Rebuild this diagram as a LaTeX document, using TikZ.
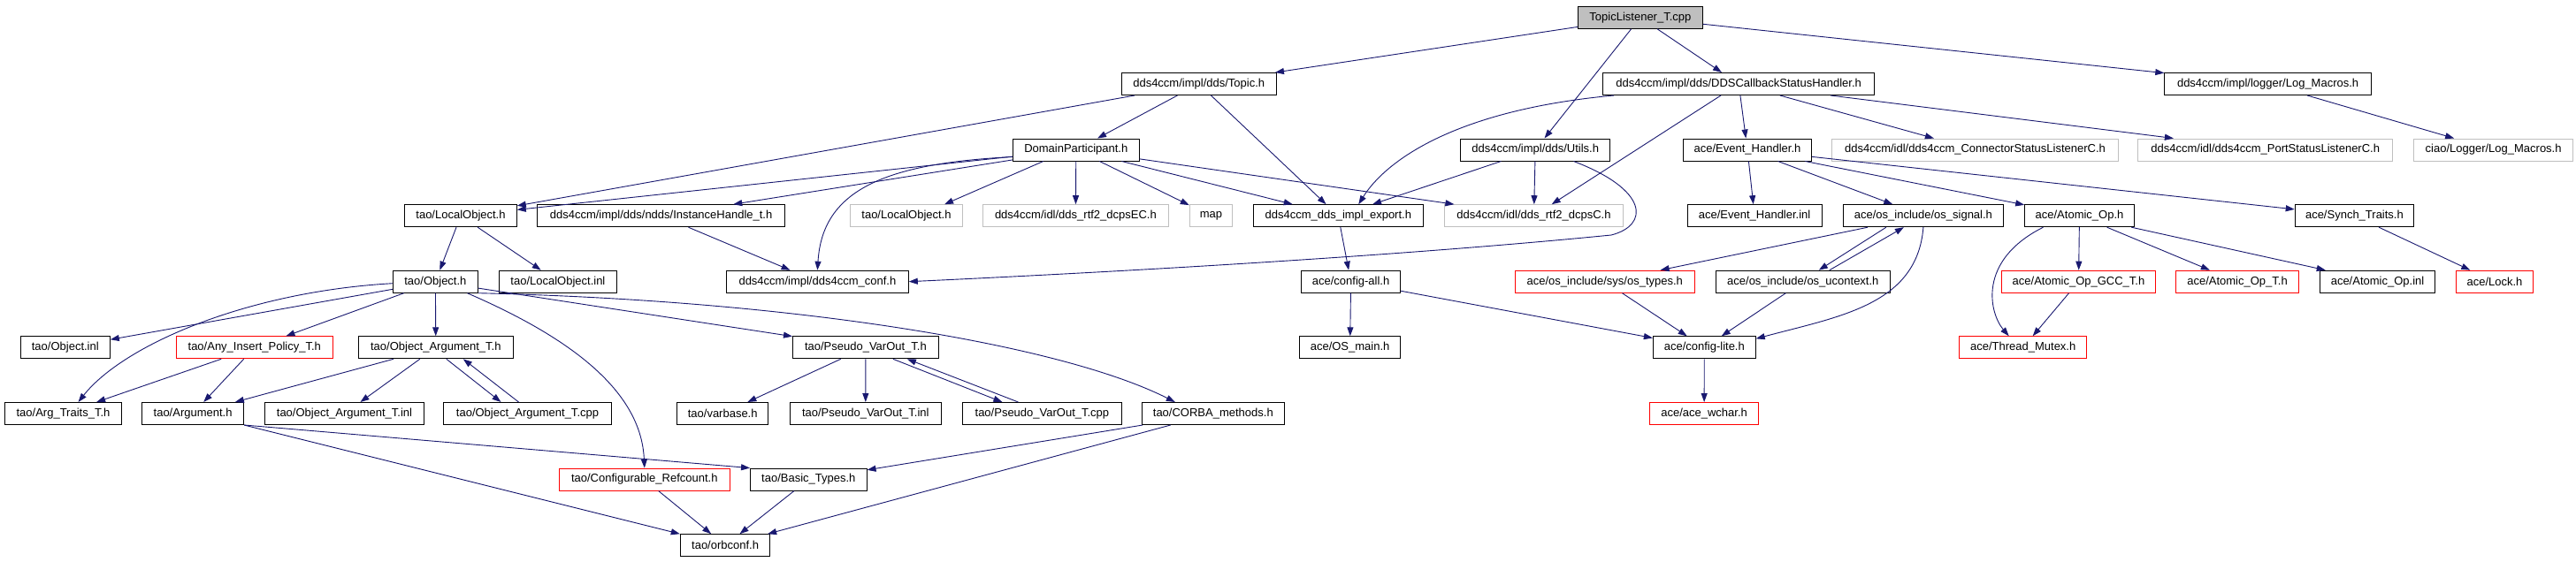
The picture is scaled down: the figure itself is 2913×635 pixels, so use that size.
\documentclass[tikz,border=0pt]{standalone}
\usepackage{fontspec}
\setmainfont{Liberation Sans}
\usetikzlibrary{arrows.meta}
\definecolor{edgec}{HTML}{191970}
\definecolor{grayc}{HTML}{BFBFBF}
\begin{document}
\begin{tikzpicture}[x=1pt,y=-1pt,
  nb/.style={draw=black, line width=1pt, minimum height=25pt, inner sep=0pt, font=\fontsize{13}{15}\selectfont, anchor=center},
  nr/.style={nb, draw=red},
  ng/.style={nb, draw=grayc},
  nt/.style={nb, fill=grayc},
  ed/.style={draw=edgec, line width=0.9pt, -{Triangle[length=10pt,width=7pt]}}]
\fill[white] (0,0) rectangle (2913,635);
\useasboundingbox (0,0) rectangle (2913,635);
% row 0
\node[nt, minimum width=140.6pt] (tl) at (1854.9,19.8) {TopicListener\_T.cpp};
% row 1
\node[nb, minimum width=175.3pt] (topic) at (1355.7,95) {dds4ccm/impl/dds/Topic.h};
\node[nb, minimum width=307.3pt] (ddscb) at (1966.2,95) {dds4ccm/impl/dds/DDSCallbackStatusHandler.h};
\node[nb, minimum width=233.6pt] (logm) at (2564.6,95) {dds4ccm/impl/logger/Log\_Macros.h};
% row 2
\node[nb, minimum width=142.4pt] (dp) at (1216.8,169.5) {DomainParticipant.h};
\node[nb, minimum width=169.5pt] (utils) at (1736.2,169.5) {dds4ccm/impl/dds/Utils.h};
\node[nb, minimum width=145.3pt] (evh) at (1976,169.5) {ace/Event\_Handler.h};
\node[ng, minimum width=324.7pt] (csl) at (2233.5,169.5) {dds4ccm/idl/dds4ccm\_ConnectorStatusListenerC.h};
\node[ng, minimum width=288.1pt] (psl) at (2561.7,169.5) {dds4ccm/idl/dds4ccm\_PortStatusListenerC.h};
\node[ng, minimum width=180pt] (ciaolog) at (2819.6,169.5) {ciao/Logger/Log\_Macros.h};
% row 3
\node[nb, minimum width=126.6pt] (lo) at (521,244.2) {tao/LocalObject.h};
\node[nb, minimum width=280pt] (ih) at (747.6,244.2) {dds4ccm/impl/dds/ndds/InstanceHandle\_t.h};
\node[ng, minimum width=126.6pt] (lo2) at (1025,244.2) {tao/LocalObject.h};
\node[ng, minimum width=209.5pt] (ec) at (1216.4,244.2) {dds4ccm/idl/dds\_rtf2\_dcpsEC.h};
\node[ng, minimum width=48.4pt] (map) at (1369.5,244.2) {map};
\node[nb, minimum width=192.5pt] (exp) at (1513.3,244.2) {dds4ccm\_dds\_impl\_export.h};
\node[ng, minimum width=201.6pt] (dcpsc) at (1734.5,244.2) {dds4ccm/idl/dds\_rtf2\_dcpsC.h};
\node[nb, minimum width=152.2pt] (evhi) at (1984.1,244.2) {ace/Event\_Handler.inl};
\node[nb, minimum width=181pt] (sig) at (2174.9,244.2) {ace/os\_include/os\_signal.h};
\node[nb, minimum width=123.7pt] (aop) at (2351.5,244.2) {ace/Atomic\_Op.h};
\node[nb, minimum width=134.4pt] (synch) at (2662.4,244.2) {ace/Synch\_Traits.h};
% row 4
\node[nb, minimum width=95.5pt] (obj) at (492.4,318.7) {tao/Object.h};
\node[nb, minimum width=133.2pt] (loinl) at (630.9,318.7) {tao/LocalObject.inl};
\node[nb, minimum width=205.8pt] (conf) at (924.4,318.7) {dds4ccm/impl/dds4ccm\_conf.h};
\node[nb, minimum width=111.7pt] (cfgall) at (1527.6,318.7) {ace/config-all.h};
\node[nr, minimum width=203pt] (ostypes) at (1814.8,318.7) {ace/os\_include/sys/os\_types.h};
\node[nb, minimum width=196.5pt] (ucontext) at (2038.8,318.7) {ace/os\_include/os\_ucontext.h};
\node[nr, minimum width=174.2pt] (gcc) at (2350.5,318.7) {ace/Atomic\_Op\_GCC\_T.h};
\node[nr, minimum width=139.1pt] (aopt) at (2530,318.7) {ace/Atomic\_Op\_T.h};
\node[nb, minimum width=129.9pt] (aopinl) at (2688.5,318.7) {ace/Atomic\_Op.inl};
\node[nr, minimum width=86.6pt] (lock) at (2821,318.7) {ace/Lock.h};
% row 5
\node[nb, minimum width=101pt] (objinl) at (73.8,393.3) {tao/Object.inl};
\node[nr, minimum width=176.9pt] (aip) at (287.8,393.3) {tao/Any\_Insert\_Policy\_T.h};
\node[nb, minimum width=175.6pt] (oat) at (492.8,393.3) {tao/Object\_Argument\_T.h};
\node[nb, minimum width=164.8pt] (pvo) at (978.9,393.3) {tao/Pseudo\_VarOut\_T.h};
\node[nb, minimum width=114.5pt] (osmain) at (1526.6,393.3) {ace/OS\_main.h};
\node[nb, minimum width=115.9pt] (cfglite) at (1927.3,393.3) {ace/config-lite.h};
\node[nr, minimum width=144pt] (tmutex) at (2287.7,393.3) {ace/Thread\_Mutex.h};
% row 6
\node[nb, minimum width=131.8pt] (argtr) at (71.5,468) {tao/Arg\_Traits\_T.h};
\node[nb, minimum width=115pt] (arg) at (218.1,468) {tao/Argument.h};
\node[nb, minimum width=180.2pt] (oatinl) at (389.5,468) {tao/Object\_Argument\_T.inl};
\node[nb, minimum width=189.9pt] (oatcpp) at (596.5,468) {tao/Object\_Argument\_T.cpp};
\node[nb, minimum width=103.3pt] (varbase) at (817.2,468) {tao/varbase.h};
\node[nb, minimum width=170.5pt] (pvoinl) at (978.8,468) {tao/Pseudo\_VarOut\_T.inl};
\node[nb, minimum width=179.9pt] (pvocpp) at (1178.4,468) {tao/Pseudo\_VarOut\_T.cpp};
\node[nb, minimum width=160.5pt] (corba) at (1371.8,468) {tao/CORBA\_methods.h};
\node[nr, minimum width=122.9pt] (wchar) at (1927.1,468) {ace/ace\_wchar.h};
% row 7
\node[nr, minimum width=192.5pt] (cref) at (728.8,542.6) {tao/Configurable\_Refcount.h};
\node[nb, minimum width=131.5pt] (basic) at (914.3,542.6) {tao/Basic\_Types.h};
% row 8
\node[nb, minimum width=101.6pt] (orbconf) at (820.1,617.2) {tao/orbconf.h};
% edges
\draw[ed] (tl) -- (topic);
\draw[ed] (tl) -- (ddscb);
\draw[ed] (tl) -- (utils);
\draw[ed] (tl) -- (logm);
\draw[ed] (topic) -- (lo);
\draw[ed] (topic) -- (dp);
\draw[ed] (topic) -- (exp);
\draw[ed] ([xshift=13pt]ddscb.south west) .. controls (1640,125) and (1565,185) .. ([xshift=23pt]exp.north);
\draw[ed] (ddscb) -- (dcpsc);
\draw[ed] (ddscb) -- (evh);
\draw[ed] (ddscb) -- (csl);
\draw[ed] (ddscb) -- (psl);
\draw[ed] (logm) -- (ciaolog);
\draw[ed] (dp) -- (lo);
\draw[ed] (dp) -- (ih);
\draw[ed] ([yshift=-8pt]dp.west) .. controls (1000,185) and (930,215) .. (conf.north);
\draw[ed] ([xshift=-37pt]dp.south) -- ([xshift=43pt]lo2.north);
\draw[ed] (dp) -- (ec);
\draw[ed] (dp) -- (map);
\draw[ed] (dp) -- (exp);
\draw[ed] (dp) -- (dcpsc);
\draw[ed] (utils) -- (exp);
\draw[ed] (utils) -- (dcpsc);
\draw[ed] ([xshift=-42pt]utils.south east) .. controls (1865,215) and (1865,255) .. (1822,266) .. controls (1600,288) and (1300,306) .. (conf.east);
\draw[ed] (ih) -- (conf);
\draw[ed] (exp) -- (cfgall);
\draw[ed] (cfgall) -- (osmain);
\draw[ed] (cfgall) -- (cfglite);
\draw[ed] (ostypes) -- (cfglite);
\draw[ed] (ucontext) -- (cfglite);
\draw[ed] (sig) -- (ostypes);
\draw[ed] ([xshift=-42pt]sig.south) -- ([xshift=18pt]ucontext.north);
\draw[ed] ([xshift=30pt]ucontext.north) -- ([xshift=-22pt]sig.south);
\draw[ed] (sig.south) .. controls (2168,345) and (2080,358) .. ([yshift=-3pt]cfglite.north east);
\draw[ed] (cfglite) -- (wchar);
\draw[ed] (evh) -- (evhi);
\draw[ed] (evh) -- (sig);
\draw[ed] (evh) -- (aop);
\draw[ed] (evh) -- (synch);
\draw[ed] ([xshift=-41pt]aop.south) .. controls (2235,295) and (2250,355) .. ([xshift=-16pt]tmutex.north);
\draw[ed] (aop) -- (gcc);
\draw[ed] (aop) -- (aopt);
\draw[ed] (aop) -- (aopinl);
\draw[ed] (gcc) -- (tmutex);
\draw[ed] (synch) -- (lock);
\draw[ed] (lo) -- (obj);
\draw[ed] (lo) -- (loinl);
\draw[ed] (obj) -- (objinl);
\draw[ed] ([yshift=-2pt]obj.west) .. controls (280,330) and (140,390) .. ([xshift=17pt]argtr.north);
\draw[ed] (obj) -- (aip);
\draw[ed] (obj) -- (oat);
\draw[ed] ([xshift=36pt]obj.south) .. controls (640,380) and (725,440) .. (cref.north);
\draw[ed] (obj) -- (pvo);
\draw[ed] (obj.south east) .. controls (900,340) and (1200,390) .. ([xshift=-43pt]corba.north);
\draw[ed] (aip) -- (argtr);
\draw[ed] (aip) -- (arg);
\draw[ed] (oat) -- (arg);
\draw[ed] (oat) -- (oatinl);
\draw[ed] ([xshift=12pt]oat.south) -- ([xshift=-30pt]oatcpp.north);
\draw[ed] ([xshift=-10pt]oatcpp.north) -- ([xshift=31pt]oat.south);
\draw[ed] (arg.south east) -- (basic.north west);
\draw[ed] (arg.south east) -- (orbconf.north west);
\draw[ed] (cref) -- (orbconf);
\draw[ed] (basic) -- (orbconf);
\draw[ed] (corba) -- (basic);
\draw[ed] (corba) -- (orbconf);
\draw[ed] (pvo) -- (varbase);
\draw[ed] (pvo) -- (pvoinl);
\draw[ed] ([xshift=31pt]pvo.south) -- ([xshift=-45pt]pvocpp.north);
\draw[ed] ([xshift=-27pt]pvocpp.north) -- ([xshift=47pt]pvo.south);
\end{tikzpicture}
\end{document}
